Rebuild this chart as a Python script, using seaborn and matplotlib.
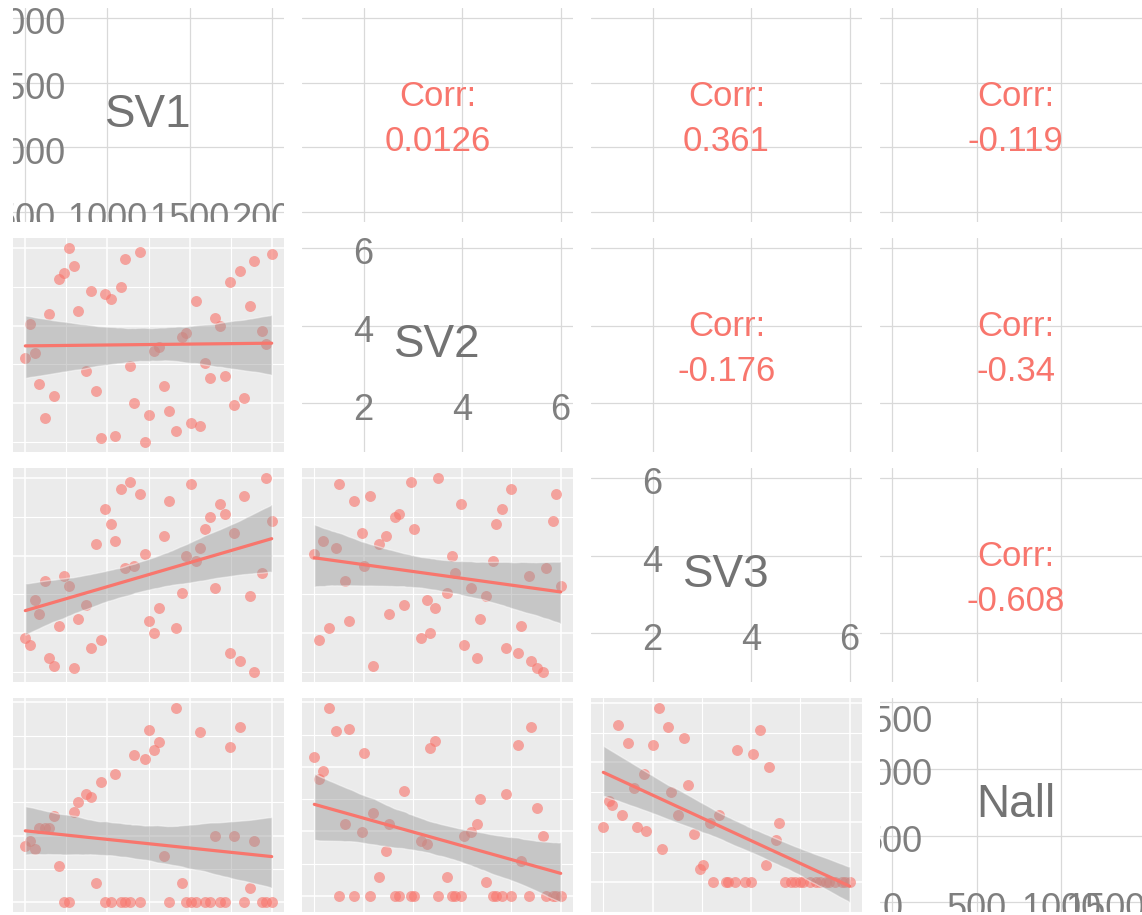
import numpy as np
import pandas as pd
import matplotlib
matplotlib.use("Agg")
import matplotlib.pyplot as plt
from matplotlib.collections import PolyCollection
from matplotlib.transforms import offset_copy
import seaborn as sns

sns.set_style("white")
plt.rcParams["font.family"] = ["Liberation Sans", "DejaVu Sans"]

VARIABLES = ["SV1", "SV2", "SV3", "Nall"]

sv1 = [500, 530, 561, 585, 618, 646, 676, 703, 737, 764,
       798, 822, 869, 899, 928, 958, 986, 1021, 1043, 1080,
       1104, 1139, 1163, 1197, 1226, 1256, 1282, 1313, 1345, 1374,
       1420, 1451, 1479, 1507, 1540, 1566, 1597, 1627, 1655, 1686,
       1716, 1745, 1773, 1805, 1834, 1866, 1893, 1939, 1968, 2000]
sv2 = [3.16, 4.04, 3.29, 2.51, 1.63, 4.30, 2.20, 5.20, 5.35, 6.00,
       5.52, 4.37, 2.83, 4.89, 2.32, 1.10, 4.81, 4.68, 1.17, 5.00,
       5.70, 2.97, 2.01, 5.90, 1.00, 1.70, 3.35, 3.45, 2.45, 1.81,
       1.30, 3.70, 3.80, 1.50, 4.63, 1.43, 3.03, 2.64, 4.19, 3.98,
       2.71, 5.13, 1.96, 5.39, 2.13, 4.49, 5.65, 3.85, 3.52, 5.84]
sv3 = [1.87, 1.69, 2.85, 2.51, 3.34, 1.37, 1.17, 2.20, 3.48, 3.22,
       1.11, 2.37, 2.72, 1.63, 4.30, 1.82, 5.19, 4.81, 4.37, 5.70,
       3.67, 5.90, 3.72, 5.58, 4.04, 2.32, 2.01, 2.64, 4.50, 5.39,
       2.14, 3.03, 4.00, 5.84, 3.87, 4.19, 4.68, 5.00, 3.16, 5.32,
       5.06, 1.50, 4.57, 1.30, 5.52, 2.97, 1.00, 3.54, 6.00, 4.89]
nall = [422, 462, 399, 558, 558, 558, 644, 273, 0, 0,
        677, 752, 813, 790, 144, 904, 0, 0, 965, 0,
        0, 0, 1106, 0, 1073, 1295, 1144, 1204, 348, 0,
        1459, 144, 0, 0, 0, 1275, 0, 0, 497, 0,
        0, 1166, 497, 1313, 0, 106, 460, 0, 0, 0]

# correlation text shown in the upper triangle, keyed by (row, column)
corr_labels = {(0, 1): "0.0126", (0, 2): "0.361", (0, 3): "-0.119",
               (1, 2): "-0.176", (1, 3): "-0.34",
               (2, 3): "-0.608"}

# spacing of the major grid breaks for each variable
break_step = {"SV1": 500, "SV2": 2, "SV3": 2, "Nall": 500}

df = pd.DataFrame({"SV1": sv1, "SV2": sv2, "SV3": sv3, "Nall": nall})

SALMON = "#F8766D"
PANEL_GREY = "#EBEBEB"
LIGHT_GRID = "#D9D9D9"
TEXT_GREY = "#7F7F7F"


def data_limits(var):
    lo, hi = df[var].min(), df[var].max()
    pad = 0.05 * (hi - lo)
    return lo - pad, hi + pad


def breaks(lims, step, minor=False):
    lo, hi = lims
    s = step / 2 if minor else step
    k0, k1 = int(np.ceil(lo / s - 1e-9)), int(np.floor(hi / s + 1e-9))
    vals = [k * s for k in range(k0, k1 + 1)]
    if minor:
        vals = [v for v in vals if abs(v / step - round(v / step)) > 1e-6]
    return vals


def style_panel(ax, xvar, yvar, xlim, ylim, shaded):
    ax.set_xticks(breaks(xlim, break_step[xvar]))
    ax.set_yticks(breaks(ylim, break_step[yvar]))
    if shaded:
        ax.set_xticks(breaks(xlim, break_step[xvar], True), minor=True)
        ax.set_yticks(breaks(ylim, break_step[yvar], True), minor=True)
    ax.set_xlim(xlim)
    ax.set_ylim(ylim)
    ax.tick_params(which="both", length=0, labelbottom=False, labelleft=False)
    for sp in ax.spines.values():
        sp.set_visible(False)
    ax.set_xlabel("")
    ax.set_ylabel("")
    ax.set_axisbelow(True)
    if shaded:
        ax.set_facecolor(PANEL_GREY)
        ax.grid(which="major", color="white", linewidth=1.1)
        ax.grid(which="minor", color="white", linewidth=0.8)
    else:
        ax.set_facecolor("white")
        ax.grid(which="major", color=LIGHT_GRID, linewidth=0.9)


def fmt(v):
    return str(int(v)) if float(v).is_integer() else f"{v:g}"


fig = plt.figure(figsize=(11.42, 9.15), dpi=100)
W, H = 1142, 915
col_left = [13, 302, 591, 880]
col_w = 271
row_top = [8, 238, 468, 698]
row_h = 214

for i, yvar in enumerate(VARIABLES):
    for j, xvar in enumerate(VARIABLES):
        ax = fig.add_axes([col_left[j] / W, 1 - (row_top[i] + row_h) / H,
                           col_w / W, row_h / H])
        if i > j:
            # scatter with linear fit and confidence band
            sns.regplot(data=df, x=xvar, y=yvar, ax=ax, color=SALMON, ci=95,
                        seed=100 + 10 * i + j,
                        scatter_kws=dict(s=62, alpha=0.62, linewidths=0),
                        line_kws=dict(lw=2.3))
            for coll in ax.collections:
                if isinstance(coll, PolyCollection):
                    coll.set_facecolor("#999999")
                    coll.set_alpha(0.45)
            xlim, ylim = ax.get_xlim(), ax.get_ylim()
            style_panel(ax, xvar, yvar, xlim, ylim, shaded=True)
        elif i == j:
            lims = data_limits(xvar)
            style_panel(ax, xvar, yvar, lims, lims, shaded=False)
            brk = breaks(lims, break_step[xvar])
            lo, hi = df[xvar].min(), df[xvar].max()
            b0 = brk[0]
            items = [(b0, b, b) for b in brk[1:]] + [(b, b0, b) for b in brk]
            shifted = offset_copy(ax.transData, fig=fig, y=-3, units="dots")
            for xp, yp, lab in items:
                ha = "right" if xp > hi else ("left" if xp < lo else "center")
                va = "top" if yp > hi else ("bottom" if yp < lo else "center_baseline")
                ax.text(xp, yp, fmt(lab), ha=ha, va=va, fontsize=26,
                        color=TEXT_GREY, clip_on=True, transform=shifted)
            ax.text(0.5, 0.525, xvar, transform=ax.transAxes, ha="center",
                    va="center_baseline", fontsize=33, color="#737373")
        else:
            xlim, ylim = data_limits(xvar), data_limits(yvar)
            style_panel(ax, xvar, yvar, xlim, ylim, shaded=False)
            ax.text(0.5, 0.48, "Corr:\n" + corr_labels[(i, j)],
                    transform=ax.transAxes, ha="center", va="center",
                    multialignment="center", linespacing=1.45,
                    fontsize=25, color=SALMON)

fig.savefig("out.png", dpi=100)
